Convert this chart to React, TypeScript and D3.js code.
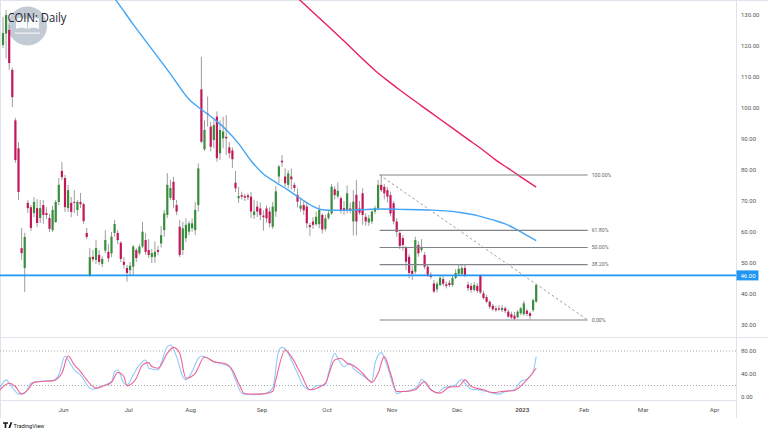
import { useEffect, useRef } from "react";
import * as d3 from "d3";

// daily candles, one per trading day starting 3 May 2022
const opens = [
  120.3, 124, 125.2, 112.3, 96, 87, 54.8, 48.4, 69.4, 68,
  66.1, 67.7, 64.5, 68.7, 66.1, 64.5, 60.6, 63.2, 69.7, 79.7,
  77.4, 67.7, 69.4, 69.7, 67.1, 69.7, 69, 59.7, 45.8, 52,
  51, 52.6, 49.7, 54, 53.6, 53.1, 59.7, 59.7, 56.5, 50.4,
  48.4, 47.7, 48.8, 54.2, 53.1, 55.3, 57.4, 54.2, 51.9, 52,
  54.2, 56.3, 60.6, 65.5, 71, 76.2, 68.7, 61.7, 54.2, 58,
  60.1, 61.2, 60.6, 68.7, 106, 86.7, 98.3, 94, 89.7, 97.2,
  85.4, 90.2, 90.7, 87.3, 86.3, 75.9, 70.9, 71.9, 71.6, 71.8,
  71.4, 65.5, 68.2, 67.6, 65.3, 67.6, 66.6, 61.7, 66.6, 77.9,
  83, 77.9, 75.2, 77.9, 75.2, 72, 67.5, 68.7, 68.2, 62.2,
  63.4, 62.5, 62.5, 65.5, 61, 64.5, 66, 73.8, 71.5, 70.9,
  67.7, 67.1, 67.6, 63.4, 72, 67.6, 72.5, 64.9, 63.1, 63.4,
  66.6, 67.6, 75.2, 74.6, 73.5, 71.9, 69.3, 63.4, 59.7, 58,
  54.8, 52, 47.5, 47.2, 55.8, 54.2, 52.6, 48.8, 46.2, 43.4,
  41.5, 42.9, 44.8, 43.1, 43.6, 42.9, 45.2, 46.5, 46.5, 48.4,
  43, 42.6, 41.3, 42.6, 46, 40.2, 39, 37.5, 36.2, 35.3,
  35.4, 34.8, 35.4, 34.3, 33.5, 33, 32.5, 33.8, 33.5, 34.6,
  33.8, 34.8, 37.5,
];
const highs = [
  129.4, 131.6, 126.8, 113, 96.8, 89, 61.3, 59.7, 70.3, 68.7,
  71.3, 70.6, 70.3, 70.3, 68, 65.8, 68.4, 70.3, 77.4, 82.6,
  78.4, 75.2, 71.3, 73.5, 70.3, 72.6, 69.4, 61.3, 54.8, 54.2,
  57.4, 54.2, 52.2, 60.6, 56.1, 60, 63.9, 60.6, 57.1, 51.9,
  49.4, 50.3, 55.8, 54.8, 56, 63.3, 59.7, 57.7, 54.5, 57,
  55.5, 61.9, 67.1, 79, 76.8, 77.8, 70.3, 63.9, 63.3, 64.4,
  63.5, 64.4, 69.7, 82.1, 116.5, 96, 103.7, 95.6, 96.1, 98.9,
  96, 97.2, 97.7, 89, 87.3, 79.7, 74.5, 73, 72.3, 72.5,
  72.9, 70.4, 70, 69.5, 67, 68.5, 68, 69.7, 74.8, 81.6,
  84.8, 80.6, 80, 80.5, 76, 74, 71, 70, 69.7, 63,
  64.8, 66.6, 68.7, 66, 65.5, 67, 75.5, 74.8, 76, 71.5,
  70, 75, 69.5, 73.5, 76.8, 70, 74.1, 66, 65.5, 67,
  68.5, 76.8, 78.4, 75.5, 74.5, 73, 70, 64.5, 60.3, 59,
  55.5, 53, 49, 58.5, 57, 57.7, 53.5, 49.5, 47, 44.5,
  44, 46, 45.8, 44, 44.5, 46, 48, 49.5, 49.5, 49.4,
  44, 43.5, 43.8, 43.4, 46.3, 41, 39.8, 38, 36.8, 36.2,
  36.4, 36.5, 36, 35, 34.3, 34.2, 34.8, 35.8, 37.8, 35.2,
  34.3, 38.5, 43.2,
];
const lows = [
  119.4, 116, 112.3, 100.3, 82.3, 70.3, 51, 40.6, 66.1, 60.3,
  64.8, 61.6, 62.9, 62.6, 64.2, 60, 60, 62.9, 68.7, 76.8,
  66.4, 66.4, 64.8, 66.1, 65.2, 67.7, 62.6, 57.7, 45.5, 50.4,
  49.7, 49.4, 48.7, 53.2, 50.3, 51.9, 58.5, 56.1, 50.3, 48.2,
  44, 45.8, 45.8, 50.3, 52.5, 54.8, 52.6, 51.6, 50, 50,
  52.5, 55, 58.5, 64.5, 70.3, 67.7, 65.5, 51.9, 52.6, 56.8,
  59, 60.1, 59, 66.6, 88.7, 86.1, 94, 86, 87, 82.7,
  83.2, 87, 84.8, 83.8, 80.7, 72.9, 69.4, 70.5, 70, 70.3,
  64.5, 64.2, 64.8, 63.8, 60.4, 63, 61.5, 61, 64.9, 75.8,
  81, 74.5, 74, 73.7, 73, 68, 66.5, 65.5, 61.2, 58.8,
  61, 62, 61.2, 59.5, 60.2, 64, 65.5, 70.5, 70.8, 66,
  65.5, 66, 66, 58.9, 58.9, 65.5, 62.3, 62, 62, 62.5,
  65.8, 67, 72.9, 70.5, 69.5, 65, 62.5, 58.5, 54.5, 54,
  47.7, 45, 44.5, 46.5, 52, 53.5, 48, 45.5, 44.8, 40.3,
  40.5, 42.5, 42.5, 41.8, 42.2, 42.3, 44.8, 45.8, 46, 45.5,
  41, 40.5, 40.8, 40.3, 40, 38.2, 37, 35.2, 34.5, 34.2,
  34.5, 34.2, 33.8, 32.3, 31.9, 31.6, 32.2, 33.2, 33, 32.8,
  31.8, 34.2, 37.2,
];
const closes = [
  124.2, 130, 114.5, 103.5, 83.2, 72.9, 53.2, 58.4, 67.7, 61.3,
  69.7, 62.9, 67.7, 65.5, 65.5, 61, 67.1, 69.7, 75.2, 77.7,
  68, 73.5, 66.5, 69.4, 69.7, 69, 63.5, 58.4, 51.9, 51.2,
  54.8, 50.3, 51.3, 57.4, 51.5, 58.5, 62.6, 57.4, 51.3, 49.4,
  46.8, 49.1, 55.3, 51.6, 55.3, 60.1, 53.6, 52.6, 53.2, 53.6,
  53.6, 59, 66, 75.2, 74.2, 70.3, 66.6, 52.6, 61.2, 62.3,
  62.8, 62.8, 67.1, 80.5, 89.1, 92.9, 98.1, 87.5, 94.5, 83.8,
  92.9, 92.4, 90.2, 85.4, 83.5, 74.1, 71.6, 71.4, 71.1, 71.2,
  66.6, 66.6, 66.6, 65.5, 64.8, 64.4, 62.8, 68.2, 73.1, 81.1,
  82.5, 75.7, 78.9, 77, 74.2, 69.8, 68.5, 67, 62.8, 61.6,
  62.3, 64.9, 67.1, 60.8, 64.4, 66, 74.6, 71.9, 73.3, 67.1,
  66.9, 72.5, 67.1, 69.8, 63.4, 66.2, 65.5, 63.4, 64.4, 66.6,
  67.7, 75.2, 73.5, 72.5, 71.4, 66, 63.4, 60, 55.5, 55.8,
  50.4, 46.8, 46.5, 57.4, 53.1, 55.2, 48.8, 46.2, 45.5, 40.8,
  43.3, 45.2, 43.3, 42.6, 42.9, 45.2, 46.8, 48.1, 48.4, 46.2,
  41.9, 41.3, 42.9, 41, 40.5, 38.7, 37.5, 35.9, 35.1, 34.8,
  35, 35.5, 34.5, 32.7, 32.4, 32, 34.3, 35.4, 37, 33.6,
  32.9, 38, 42.9,
];

// moving averages, sampled at a few bars
const ma50Bars = [34, 37, 42, 48, 54, 60, 64, 68, 72, 76, 80, 84, 88, 92, 96, 100, 103, 108, 115, 122, 128, 137, 143, 148, 153, 158, 162, 165, 168, 172];
const ma50Values = [138, 134, 127, 119, 111, 102.8, 99.5, 96.5, 93, 88.5, 83, 78.7, 76, 73.5, 70.8, 68.3, 67.2, 67, 67.2, 67.4, 67.3, 67.1, 66.8, 66.2, 65.3, 63.9, 62.6, 61.2, 59.5, 57.2];
const ma200Bars = [95, 100, 105, 110, 115, 120, 125, 128, 135, 140, 145, 150, 155, 159, 163, 167, 172];
const ma200Values = [135.5, 130.9, 126.3, 121.6, 116.8, 112.1, 108.1, 105.8, 100.7, 97.1, 93.5, 89.9, 86.3, 83.2, 80.5, 77.8, 74.5];

// stochastic %K / %D
const stochKBars = [-1, 1, 2, 4, 5, 7, 9, 11, 14, 16, 18, 20, 21, 23, 25, 28, 29, 32, 35, 36, 37, 39, 40, 42, 44, 46, 47, 50, 51, 53, 54, 56, 58, 59, 61, 63, 64, 66, 68, 70, 73, 75, 77, 80, 83, 85, 87, 89, 90, 92, 93, 95, 97, 99, 101, 104, 105, 107, 108, 110, 112, 113, 115, 118, 119, 120, 122, 124, 126, 127, 129, 131, 134, 135, 137, 140, 142, 144, 146, 148, 149, 151, 153, 156, 158, 160, 162, 165, 167, 169, 171, 172];
const stochK = [15.4, 29.8, 24, 9.6, 5, 6.7, 24, 27, 28, 28.6, 38.5, 71.3, 64.4, 47, 38.5, 15.4, 13.6, 19.4, 27, 44.2, 47, 24, 21, 38.5, 55.8, 64.4, 50, 47, 58.6, 87.5, 90.4, 70.2, 35.6, 29.8, 44.2, 67.3, 71.3, 67.3, 61.5, 58.6, 52.9, 29.8, 6.7, 3.8, 5, 6.7, 15.4, 81.7, 86.3, 76, 64.4, 41.3, 18.3, 12.5, 19.4, 21, 41.3, 76, 67.3, 52.9, 58.6, 50, 41.3, 29.8, 27, 58.6, 77.1, 52.9, 18.3, 5.6, 9.6, 10.8, 21, 31, 18.3, 6.7, 15.4, 18.3, 21, 31, 24, 13.6, 12.5, 9.6, 6.7, 5, 9.6, 12.5, 27, 31, 44.2, 70.2];
const stochDBars = [-1, 2, 4, 6, 8, 10, 14, 16, 19, 21, 23, 25, 27, 30, 32, 35, 37, 39, 40, 43, 45, 47, 48, 50, 53, 55, 57, 59, 62, 65, 68, 72, 74, 76, 78, 83, 87, 88, 91, 93, 96, 99, 102, 104, 107, 109, 111, 113, 116, 119, 121, 123, 125, 127, 130, 133, 136, 138, 141, 144, 147, 149, 151, 155, 158, 161, 165, 168, 172];
const stochD = [12.5, 24, 18.3, 5, 12.5, 25.4, 27.5, 28, 41.3, 71.3, 55.8, 44.2, 29.8, 15.4, 18.3, 25.4, 42.5, 35.6, 19.4, 32.6, 55.8, 59.8, 52.9, 50, 76, 86.3, 76, 32.6, 41.3, 69.6, 61.5, 57.5, 47, 24, 5.6, 5, 9.6, 29.8, 81.7, 70.2, 41.3, 12.5, 17.1, 24, 64.4, 67.3, 58.6, 54.6, 41.3, 25.4, 41.3, 70.2, 41.3, 9.6, 9.6, 12.5, 27, 12.5, 6.7, 17.1, 18.3, 29.8, 18.3, 12.5, 7.8, 9.6, 11.4, 24, 50];

// axis
const monthBars = [20, 41, 61, 84, 105, 126, 147, 168, 188, 207, 230];
const monthLabels = ["Jun", "Jul", "Aug", "Sep", "Oct", "Nov", "Dec", "2023", "Feb", "Mar", "Apr"];
const priceTicks = [30, 40, 50, 60, 70, 80, 90, 100, 110, 120, 130];
const stochTicks = [0, 40, 80];
const stochBands = [20, 80];

// fibonacci retracement + support
const fibLevels = [1, 0.618, 0.5, 0.382, 0];
const fibLabels = ["100.00%", "61.80%", "50.00%", "38.20%", "0.00%"];
const fibHigh = 78.4;
const fibLow = 31.6;
const fibStartBar = 121.5;
const fibEndBar = 188.6;
const supportLevel = 46;

const FONT = "Roboto, 'Noto Sans', sans-serif";

const App = () => {
  const svgRef = useRef<SVGSVGElement | null>(null);

  useEffect(() => {
    document.body.style.margin = "0";
    const svg = d3.select(svgRef.current);
    svg.selectAll("*").remove();

    const plotRight = 736;
    const x = d3.scaleLinear().domain([-0.97, 236.45]).range([0, plotRight]);
    const y = d3.scaleLinear().domain([30, 130]).range([325, 15]);
    const ys = d3.scaleLinear().domain([0, 80]).range([397, 351]);

    svg.append("rect").attr("width", 768).attr("height", 432).attr("fill", "#ffffff");

    const defs = svg.append("defs");
    defs.append("clipPath").attr("id", "price-clip")
      .append("rect").attr("x", 0).attr("y", 0).attr("width", plotRight).attr("height", 337);
    defs.append("clipPath").attr("id", "stoch-clip")
      .append("rect").attr("x", 0).attr("y", 338).attr("width", plotRight).attr("height", 62);

    // frame lines
    const frame = "#e0e3eb";
    svg.append("line").attr("x1", 0).attr("x2", 768).attr("y1", 337.5).attr("y2", 337.5).attr("stroke", frame);
    svg.append("line").attr("x1", 0).attr("x2", plotRight).attr("y1", 400.5).attr("y2", 400.5).attr("stroke", frame);
    svg.append("line").attr("x1", 0).attr("x2", 768).attr("y1", 0.5).attr("y2", 0.5).attr("stroke", frame);
    svg.append("line").attr("x1", 0.5).attr("x2", 0.5).attr("y1", 0).attr("y2", 418).attr("stroke", frame);
    svg.append("line").attr("x1", plotRight + 0.5).attr("x2", plotRight + 0.5).attr("y1", 0).attr("y2", 418).attr("stroke", frame);

    // watermark logo
    const logo = svg.append("g");
    logo.append("circle").attr("cx", 27.5).attr("cy", 26).attr("r", 19.5).attr("fill", "#b7c1cc").attr("opacity", 0.85);
    logo.append("path")
      .attr("d", "M16 19 q5.5 -2.5 11 0 v10 q-5.5 -2.5 -11 0z M28 19 q5.5 -2.5 11 0 v10 q-5.5 -2.5 -11 0z")
      .attr("fill", "#ffffff").attr("opacity", 0.9);
    logo.append("rect").attr("x", 15).attr("y", 32.5).attr("width", 25).attr("height", 1.2).attr("fill", "#ffffff").attr("opacity", 0.8);

    const price = svg.append("g").attr("clip-path", "url(#price-clip)");

    // candles
    const up = "#388e3c";
    const down = "#c2185b";
    const idx = d3.range(opens.length);
    price.selectAll("line.wick").data(idx).join("line")
      .attr("class", "wick")
      .attr("x1", (i) => x(i)).attr("x2", (i) => x(i))
      .attr("y1", (i) => y(highs[i])).attr("y2", (i) => y(lows[i]))
      .attr("stroke", "#9e9e9e").attr("stroke-width", 1);
    price.selectAll("rect.body").data(idx).join("rect")
      .attr("class", "body")
      .attr("x", (i) => x(i) - 1.1)
      .attr("width", 2.2)
      .attr("y", (i) => y(Math.max(opens[i], closes[i])))
      .attr("height", (i) => Math.max(0.9, Math.abs(y(opens[i]) - y(closes[i]))))
      .attr("fill", (i) => (closes[i] >= opens[i] ? up : down));

    // moving averages
    const maLine = d3.line<number>().x((b) => x(b[0])).y((b) => y(b[1])).curve(d3.curveMonotoneX) as any;
    price.append("path")
      .attr("d", maLine(ma50Bars.map((b, i) => [b, ma50Values[i]])))
      .attr("fill", "none").attr("stroke", "#42a5f5").attr("stroke-width", 1.4);
    price.append("path")
      .attr("d", maLine(ma200Bars.map((b, i) => [b, ma200Values[i]])))
      .attr("fill", "none").attr("stroke", "#e91e63").attr("stroke-width", 1.4);

    // fibonacci
    const fibPrice = (lv: number) => fibLow + lv * (fibHigh - fibLow);
    fibLevels.forEach((lv, k) => {
      const yy = y(fibPrice(lv));
      price.append("line")
        .attr("x1", x(fibStartBar)).attr("x2", x(fibEndBar))
        .attr("y1", yy).attr("y2", yy)
        .attr("stroke", "#808389").attr("stroke-width", 1.1);
      price.append("text")
        .attr("x", x(fibEndBar) + 4).attr("y", yy + 1.8)
        .attr("font-family", FONT).attr("font-size", 5.2).attr("fill", "#666")
        .text(fibLabels[k]);
    });
    price.append("line")
      .attr("x1", x(fibStartBar)).attr("y1", y(fibHigh))
      .attr("x2", x(fibEndBar)).attr("y2", y(fibLow))
      .attr("stroke", "#9e9e9e").attr("stroke-width", 1).attr("stroke-dasharray", "2.5 2.5");

    // support line
    price.append("line")
      .attr("x1", 0).attr("x2", plotRight)
      .attr("y1", y(supportLevel)).attr("y2", y(supportLevel))
      .attr("stroke", "#2196f3").attr("stroke-width", 1.6);

    // price axis
    svg.selectAll("text.ptick").data(priceTicks).join("text")
      .attr("class", "ptick")
      .attr("x", 741).attr("y", (v) => y(v) + 2)
      .attr("font-family", FONT).attr("font-size", 6).attr("fill", "#555")
      .text((v) => v.toFixed(2));
    svg.append("rect")
      .attr("x", plotRight + 0.5).attr("y", y(supportLevel) - 5).attr("width", 22).attr("height", 10)
      .attr("fill", "#2196f3");
    svg.append("text")
      .attr("x", 740.5).attr("y", y(supportLevel) + 2.2)
      .attr("font-family", FONT).attr("font-size", 6).attr("fill", "#ffffff")
      .text(supportLevel.toFixed(2));

    // stochastic pane
    const stoch = svg.append("g").attr("clip-path", "url(#stoch-clip)");
    stochBands.forEach((v) => {
      stoch.append("line")
        .attr("x1", 0).attr("x2", plotRight).attr("y1", ys(v)).attr("y2", ys(v))
        .attr("stroke", "#a3a6ad").attr("stroke-width", 1).attr("stroke-dasharray", "1 2");
    });
    const sLine = d3.line<number>().x((b) => x(b[0])).y((b) => ys(b[1])).curve(d3.curveMonotoneX) as any;
    stoch.append("path")
      .attr("d", sLine(stochKBars.map((b, i) => [b, stochK[i]])))
      .attr("fill", "none").attr("stroke", "#90caf9").attr("stroke-width", 1.1);
    stoch.append("path")
      .attr("d", sLine(stochDBars.map((b, i) => [b, stochD[i]])))
      .attr("fill", "none").attr("stroke", "#f06292").attr("stroke-width", 1.1);
    svg.selectAll("text.stick").data(stochTicks).join("text")
      .attr("class", "stick")
      .attr("x", 741).attr("y", (v) => ys(v) + 2)
      .attr("font-family", FONT).attr("font-size", 6).attr("fill", "#555")
      .text((v) => v.toFixed(2));

    // time axis
    svg.selectAll("text.month").data(monthBars).join("text")
      .attr("class", "month")
      .attr("x", (b) => x(b) - 1.5).attr("y", 412)
      .attr("text-anchor", "middle")
      .attr("font-family", FONT).attr("font-size", 6.2)
      .attr("font-weight", (b, i) => (monthLabels[i] === "2023" ? "bold" : "normal"))
      .attr("fill", "#555")
      .text((b, i) => monthLabels[i]);

    // title
    svg.append("text")
      .attr("x", 7.5).attr("y", 21.5)
      .attr("font-family", "'Open Sans', " + FONT).attr("font-size", 13.5).attr("fill", "#1e222d")
      .attr("textLength", 59).attr("lengthAdjust", "spacingAndGlyphs")
      .text("COIN: Daily");

    // TradingView mark
    svg.append("path")
      .attr("d", "M3 422.3h5v1.5H6.3V428H4.7v-4.2H3z M8.4 428l2.1-5.7h1.8l-2.1 5.7z")
      .attr("fill", "#131722");
    svg.append("text")
      .attr("x", 13.5).attr("y", 427.6)
      .attr("font-family", FONT).attr("font-size", 5.6).attr("fill", "#131722")
      .text("TradingView");
  }, []);

  return <svg ref={svgRef} width={768} height={432} style={{ display: "block" }} />;
};

export default App;
